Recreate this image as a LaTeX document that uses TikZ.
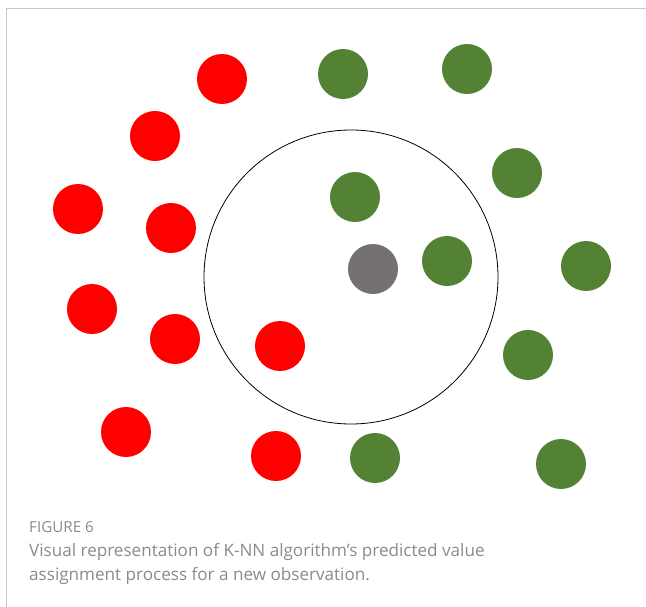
\documentclass[tikz,border=0pt]{standalone}
\usepackage{fontspec}
\setmainfont{Open Sans}
\definecolor{clsred}{HTML}{FF0000}
\definecolor{clsgreen}{HTML}{548235}
\definecolor{newgray}{HTML}{767171}
\definecolor{framegray}{HTML}{C8C8C8}
\definecolor{captiongray}{HTML}{8A8A8A}
\begin{document}
\begin{tikzpicture}[x=1pt,y=-1pt,
  pt/.style={circle,minimum size=50pt,inner sep=0pt},
  redpt/.style={pt,fill=clsred},
  greenpt/.style={pt,fill=clsgreen},
  query/.style={pt,fill=newgray},
  captext/.style={anchor=base west,inner sep=0pt,text=captiongray}]
\useasboundingbox (0,0) rectangle (646,607);
% frame lines
\draw[framegray,line width=1pt] (6,607) -- (6,9) -- (646,9);
% neighbourhood radius
\node[circle,draw=black,line width=0.8pt,minimum size=294pt,inner sep=0pt] (hood) at (351,277) {};
% class A
\node[redpt] (r1) at (222,79) {};
\node[redpt] (r2) at (155,136) {};
\node[redpt] (r3) at (78,209) {};
\node[redpt] (r4) at (171,228) {};
\node[redpt] (r5) at (92,309) {};
\node[redpt] (r6) at (175,339) {};
\node[redpt] (r7) at (280,346) {};
\node[redpt] (r8) at (126,432) {};
\node[redpt] (r9) at (276,456) {};
% class B
\node[greenpt] (g1) at (343,74) {};
\node[greenpt] (g2) at (467,69) {};
\node[greenpt] (g3) at (517,173) {};
\node[greenpt] (g4) at (355,197) {};
\node[greenpt] (g5) at (447,261) {};
\node[greenpt] (g6) at (586,266) {};
\node[greenpt] (g7) at (528,355) {};
\node[greenpt] (g8) at (375,458) {};
\node[greenpt] (g9) at (561,464) {};
% new observation
\node[query] (q) at (373,269) {};
% caption
\node[captext,font=\fontsize{15.2}{17}\selectfont] (fig) at (29,532) {FIGURE 6};
\node[captext,font=\fontsize{17.1}{20}\selectfont] (cap1) at (29,556)
  {Visual representation of K-NN algorithm’s predicted value};
\node[captext,font=\fontsize{17.1}{20}\selectfont] (cap2) at (29,580)
  {assignment process for a new observation.};
\end{tikzpicture}
\end{document}
